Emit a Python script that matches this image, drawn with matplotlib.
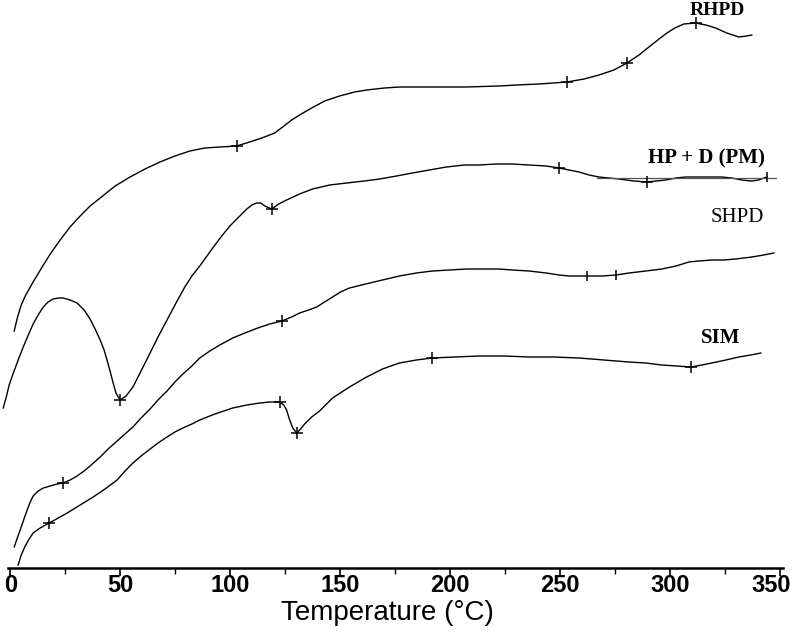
import matplotlib
matplotlib.use("Agg")
import matplotlib.pyplot as plt
import numpy as np
from matplotlib.ticker import MultipleLocator

# DSC traces: temperature (deg C) vs heat flow (arbitrary units)
rhpd_T = [1.8, 3.2, 5.0, 6.8, 10.4, 14.5, 18.2, 22.7, 27.2, 31.8, 36.3, 40.9, 47.7, 54.5,
          61.3, 68.1, 74.9, 81.7, 88.5, 95.3, 103.0, 108.9, 114.4, 120.3, 123.9, 128.0,
          131.6, 137.1, 143.0, 149.8, 156.6, 162.1, 170.2, 177.0, 192.0, 207.4, 222.4,
          230.1, 240.6, 253.3, 261.0, 267.8, 274.6, 280.5, 286.0, 290.5, 295.1, 298.7,
          302.3, 306.4, 311.8, 316.4, 320.9, 325.9, 331.4, 335.0, 337.3]
rhpd_y = [2.37, 2.50, 2.63, 2.72, 2.86, 3.01, 3.14, 3.28, 3.41, 3.52, 3.62, 3.70, 3.82, 3.91,
          3.99, 4.06, 4.12, 4.17, 4.20, 4.21, 4.22, 4.26, 4.30, 4.35, 4.41, 4.48,
          4.53, 4.60, 4.67, 4.72, 4.76, 4.78, 4.80, 4.81, 4.81, 4.81, 4.82,
          4.83, 4.84, 4.86, 4.89, 4.93, 4.98, 5.05, 5.13, 5.21, 5.29, 5.35,
          5.40, 5.44, 5.45, 5.43, 5.40, 5.35, 5.31, 5.32, 5.33]

pm_T = [-3.2, -1.8, -0.5, 1.4, 3.6, 5.9, 8.2, 10.4, 12.7, 15.0, 17.2, 19.5, 21.8, 24.1,
        27.2, 30.4, 33.6, 36.3, 38.6, 40.9, 42.7, 44.0, 45.4, 46.8, 48.1, 49.9, 52.7,
        55.8, 59.5, 63.6, 67.2, 71.3, 75.4, 79.4, 82.6, 86.2, 92.1, 96.2, 99.9, 104.4,
        107.6, 109.9, 112.1, 113.9, 115.8, 118.9, 122.1, 125.7, 131.6, 137.5, 145.3,
        153.0, 161.1, 168.0, 175.7, 182.9, 190.6, 198.4, 206.5, 213.3, 221.1, 228.3,
        236.0, 243.8, 249.7, 254.2, 258.7, 263.3, 267.8, 272.3, 276.9, 283.7, 289.6,
        293.7, 298.2, 302.8, 307.3, 313.2, 319.1, 323.6, 328.2, 332.7, 337.3, 340.4, 344.1]
pm_y = [1.60, 1.71, 1.83, 1.95, 2.08, 2.21, 2.33, 2.44, 2.53, 2.61, 2.66, 2.69, 2.70, 2.70,
        2.68, 2.65, 2.58, 2.49, 2.39, 2.28, 2.18, 2.08, 1.97, 1.85, 1.75, 1.68, 1.72,
        1.81, 1.97, 2.15, 2.31, 2.48, 2.65, 2.81, 2.92, 3.02, 3.20, 3.32, 3.42, 3.52,
        3.59, 3.63, 3.65, 3.65, 3.62, 3.59, 3.64, 3.68, 3.74, 3.79, 3.83,
        3.85, 3.87, 3.89, 3.92, 3.95, 3.98, 4.01, 4.03, 4.03, 4.04, 4.04,
        4.03, 4.02, 4.00, 3.98, 3.96, 3.93, 3.91, 3.90, 3.89, 3.87, 3.86,
        3.87, 3.88, 3.90, 3.91, 3.91, 3.91, 3.91, 3.90, 3.88, 3.87, 3.88, 3.91]
pm_base_T = [267.0, 348.2]
pm_base_y = [3.90, 3.90]

shpd_T = [1.8, 3.2, 4.5, 6.4, 7.7, 9.1, 10.4, 12.7, 15.0, 18.2, 21.3, 24.1, 27.2, 30.4,
          33.6, 36.3, 40.9, 44.5, 48.6, 52.2, 55.8, 59.5, 63.6, 67.2, 71.3, 74.9, 78.5,
          82.6, 86.2, 90.8, 95.3, 101.2, 106.7, 112.6, 118.0, 123.5, 128.0, 131.6, 135.7,
          139.4, 143.0, 146.6, 150.2, 154.3, 161.6, 169.3, 177.0, 184.7, 192.0, 199.7,
          207.4, 214.7, 222.4, 228.3, 236.0, 243.8, 249.7, 254.2, 262.4, 269.2, 275.5,
          281.4, 289.1, 296.4, 302.8, 308.7, 313.2, 319.1, 324.6, 330.0, 333.6, 337.3,
          342.7, 347.3]
shpd_y = [0.21, 0.30, 0.38, 0.50, 0.58, 0.66, 0.72, 0.77, 0.80, 0.82, 0.84, 0.85, 0.88, 0.92,
          0.97, 1.02, 1.11, 1.19, 1.27, 1.34, 1.41, 1.50, 1.59, 1.68, 1.77, 1.86, 1.94,
          2.02, 2.10, 2.17, 2.23, 2.30, 2.35, 2.40, 2.44, 2.47, 2.51, 2.55, 2.58,
          2.61, 2.66, 2.71, 2.76, 2.80, 2.84, 2.88, 2.92, 2.95, 2.97, 2.98,
          2.99, 2.99, 2.99, 2.98, 2.97, 2.95, 2.93, 2.92, 2.92, 2.92, 2.93,
          2.95, 2.97, 2.99, 3.02, 3.06, 3.07, 3.08, 3.08, 3.09, 3.10, 3.11,
          3.13, 3.15]

sim_T = [3.6, 5.0, 6.8, 8.6, 10.4, 13.6, 17.7, 21.8, 25.9, 31.8, 37.7, 43.1, 48.6, 52.2,
         55.8, 59.5, 63.6, 67.2, 71.3, 74.9, 78.5, 82.6, 86.2, 93.1, 101.2, 107.6, 113.5,
         118.0, 122.6, 124.4, 125.7, 127.1, 128.5, 130.3, 132.1, 133.9, 137.1, 140.7,
         146.6, 154.3, 162.1, 169.3, 177.0, 184.7, 192.0, 202.0, 213.3, 224.7, 236.0,
         247.4, 258.7, 270.1, 281.4, 289.1, 296.4, 303.2, 309.6, 314.6, 319.1, 325.5,
         331.4, 336.8, 341.4]
sim_y = [0.03, 0.13, 0.22, 0.29, 0.35, 0.40, 0.45, 0.50, 0.55, 0.63, 0.71, 0.79, 0.88, 0.97,
         1.05, 1.12, 1.19, 1.25, 1.31, 1.36, 1.40, 1.44, 1.48, 1.54, 1.60, 1.63, 1.65,
         1.66, 1.66, 1.63, 1.58, 1.48, 1.40, 1.35, 1.39, 1.44, 1.51, 1.57,
         1.70, 1.81, 1.91, 1.99, 2.05, 2.08, 2.10, 2.11, 2.12, 2.12, 2.11,
         2.11, 2.10, 2.08, 2.06, 2.05, 2.03, 2.02, 2.01, 2.03, 2.05, 2.08,
         2.11, 2.13, 2.15]

# temperatures where the instrument put its "+" marks
rhpd_marks = [103.0, 253.3, 280.5, 311.8]
pm_marks = [49.9, 118.9, 249.7, 289.6]
pm_end_mark = [344.1]
shpd_marks = [24.1, 123.5]
shpd_vmarks = [262.4, 275.5]
sim_marks = [17.7, 122.6, 130.3, 192.0, 309.6]

tick_vals = [0, 50, 100, 150, 200, 250, 300, 350]

fig = plt.figure(figsize=(7.93, 6.38), dpi=100)
ax = fig.add_axes([0.0096, 0.1097, 0.9778, 0.8903])

curves = [(rhpd_T, rhpd_y), (pm_T, pm_y), (shpd_T, shpd_y), (sim_T, sim_y)]
for T, y in curves:
    ax.plot(T, y, color="black", lw=1.0, clip_on=False, solid_joinstyle="round")
ax.plot(pm_base_T, pm_base_y, color="#555555", lw=0.9)

def marks(T, y, where, m="+", ms=9):
    ax.plot(where, np.interp(where, T, y), ls="none", marker=m, ms=ms,
            mew=1.1, color="black", clip_on=False)

marks(rhpd_T, rhpd_y, rhpd_marks)
marks(pm_T, pm_y, pm_marks)
marks(pm_T, pm_y, pm_end_mark, m="|", ms=7)
marks(shpd_T, shpd_y, shpd_marks)
marks(shpd_T, shpd_y, shpd_vmarks, m="|", ms=7)
marks(sim_T, sim_y, sim_marks)

serif = "Liberation Serif"
ax.text(321.8, 5.58, "RHPD", family=serif, weight="bold", fontsize=14, ha="center", va="center")
ax.text(316.8, 4.10, "HP + D (PM)", family=serif, weight="bold", fontsize=15, ha="center", va="center")
ax.text(330.5, 3.51, "SHPD", family=serif, fontsize=15, ha="center", va="center")
ax.text(323.2, 2.30, "SIM", family=serif, weight="bold", fontsize=15, ha="center", va="center")

ax.set_xlim(-1.2, 351.5)
ax.set_ylim(0, 5.68)
ax.set_xticks(tick_vals)
ax.xaxis.set_minor_locator(MultipleLocator(25))
ax.tick_params(axis="x", which="major", length=6, width=1.2, direction="out", labelbottom=False)
ax.tick_params(axis="x", which="minor", length=4, width=1.0, direction="out")
# tick labels drawn by hand so the last one can sit inside the figure like in the scan
for t in tick_vals:
    dx = -6 if t == tick_vals[-1] else 0
    ax.annotate(str(t), xy=(t, 0), xycoords=("data", "axes fraction"),
                xytext=(dx, -4), textcoords="offset points", ha="center", va="top",
                family="Liberation Sans", weight="bold", fontsize=17)
ax.set_yticks([])
for side in ["left", "right", "top"]:
    ax.spines[side].set_visible(False)
ax.spines["bottom"].set_linewidth(1.8)
fig.text(0.489, 0.039, "Temperature (°C)", family="Liberation Sans", fontsize=20,
         ha="center", va="center")

fig.savefig("out.png", dpi=100)
